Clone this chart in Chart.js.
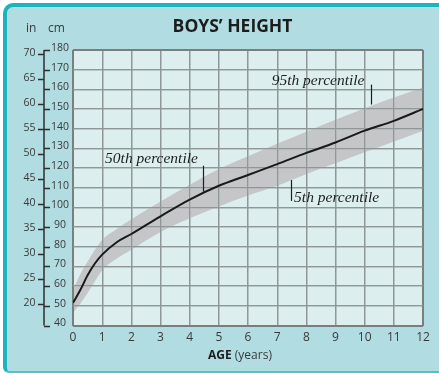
<!DOCTYPE html>
<html>
<head>
<meta charset="utf-8">
<title>Boys' height</title>
<script src="https://cdn.jsdelivr.net/npm/chart.js@4.4.1/dist/chart.umd.min.js"></script>
<style>
  html, body { margin: 0; padding: 0; background: #fff; }
  #panel {
    position: absolute; left: 3px; top: 3px;
    width: 432px; height: 364px;
    background: #b1dce1;
    border-top: 4px solid #1db3be;
    border-left: 4px solid #1db3be;
    border-bottom: 2px solid #4fc2ca;
    border-top-left-radius: 10px;
    border-bottom-left-radius: 6px;
  }
  #chart { position: absolute; left: 0; top: 0; }
</style>
</head>
<body>
<div id="panel"></div>
<canvas id="chart" width="439" height="373"></canvas>
<script>
'use strict';

// ── Data: height (cm) by age (years) ─────────────────
const ages = [0, 0.25, 0.5, 0.75, 1, 1.5, 2, 3, 4, 5, 6, 7, 8, 9, 10, 11, 12];
const p50  = [51.5, 58, 65.5, 71.5, 76, 82.3, 86.5, 95.5, 104, 111, 116.5, 122, 127.7, 133, 139, 144, 150];
const p95  = [58, 66, 72.5, 78.5, 83.5, 89, 94, 103, 111.5, 119.5, 126, 132.3, 138.5, 144.5, 150.4, 155.8, 161];
const p5   = [46.5, 51, 56.5, 62.5, 68, 74, 78.5, 87.5, 94.5, 100.5, 106, 111, 117, 122.5, 128, 133.5, 139];

// ── Tick labels ──────────────────────────────────────
const ageTicks  = [0, 1, 2, 3, 4, 5, 6, 7, 8, 9, 10, 11, 12];
const cmTicks   = [40, 50, 60, 70, 80, 90, 100, 110, 120, 130, 140, 150, 160, 170, 180];
const inchTicks = [20, 25, 30, 35, 40, 45, 50, 55, 60, 65, 70];

// ── Callout labels (age, cm) ─────────────────────────
const notes = [
  { text: '95th percentile', at: [6.81, 162.2], tick: [10.2, 162.4, 152.3] },
  { text: '50th percentile', at: [1.10, 122.4], tick: [4.47, 121.2, 108.0] },
  { text: '5th percentile',  at: [7.58, 102.9], tick: [7.46, 113.9, 103.3] },
];

const toPts = vals => ages.map((a, i) => ({ x: a, y: vals[i] }));

const GRID   = '#8f9797';
const EDGE   = '#7a7e7e';
const INK    = '#3a3a3a';

Chart.defaults.font.family = "'Open Sans', sans-serif";

// plot background, grid over the band, ruler, callouts and captions
const decor = {
  id: 'decor',
  beforeDraw(chart) {
    const { ctx, chartArea: a } = chart;
    ctx.save();
    ctx.fillStyle = '#dcefee';
    ctx.fillRect(a.left, a.top, a.right - a.left, a.bottom - a.top);
    ctx.restore();
  },
  beforeDatasetDraw(chart, args) {
    // redraw grid on top of the grey band, under the median line
    if (args.index === 2) {
      chart.scales.x.drawGrid(chart.chartArea);
      chart.scales.y.drawGrid(chart.chartArea);
    }
  },
  afterDraw(chart) {
    const { ctx } = chart;
    const x = chart.scales.x, y = chart.scales.y, yIn = chart.scales.yIn;
    ctx.save();

    // dual cm / inch ruler
    const ax = y.left + 1;
    ctx.strokeStyle = '#2e2e2e';
    ctx.lineWidth = 1.5;
    ctx.beginPath();
    ctx.moveTo(ax, y.getPixelForValue(180));
    ctx.lineTo(ax, y.getPixelForValue(40));
    cmTicks.forEach(v => {
      const py = Math.round(y.getPixelForValue(v)) + 0.5;
      ctx.moveTo(ax, py); ctx.lineTo(ax + 6, py);
    });
    inchTicks.forEach(v => {
      const py = Math.round(yIn.getPixelForValue(v)) + 0.5;
      ctx.moveTo(ax - 6, py); ctx.lineTo(ax, py);
    });
    ctx.stroke();

    // percentile callouts
    ctx.fillStyle = '#1e1e1e';
    ctx.strokeStyle = '#1e1e1e';
    ctx.lineWidth = 1.2;
    ctx.font = "italic 15.5px 'Liberation Serif', serif";
    ctx.textBaseline = 'alphabetic';
    ctx.textAlign = 'left';
    notes.forEach(n => {
      ctx.fillText(n.text, x.getPixelForValue(n.at[0]), y.getPixelForValue(n.at[1]));
      const tx = Math.round(x.getPixelForValue(n.tick[0])) + 0.5;
      ctx.beginPath();
      ctx.moveTo(tx, y.getPixelForValue(n.tick[1]));
      ctx.lineTo(tx, y.getPixelForValue(n.tick[2]));
      ctx.stroke();
    });

    // captions
    ctx.fillStyle = '#1c1c1c';
    ctx.font = "bold 17.5px 'Open Sans', sans-serif";
    ctx.textAlign = 'center';
    ctx.fillText('BOYS\u2019 HEIGHT', 232.5, 32);

    ctx.fillStyle = INK;
    ctx.font = "12px 'Open Sans', sans-serif";
    ctx.textAlign = 'left';
    ctx.fillText('in', 26, 31.5);
    ctx.fillText('cm', 48, 31.5);

    ctx.font = "bold 12px 'Open Sans', sans-serif";
    ctx.fillStyle = '#1c1c1c';
    ctx.fillText('AGE', 208, 359);
    const w = ctx.measureText('AGE ').width;
    ctx.font = "12px 'Open Sans', sans-serif";
    ctx.fillStyle = INK;
    ctx.fillText('(years)', 208 + w, 359);

    ctx.restore();
  }
};

const edgeColor = (lo, hi) => c => (c.tick && (c.tick.value === lo || c.tick.value === hi)) ? EDGE : GRID;
const edgeWidth = (lo, hi) => c => (c.tick && (c.tick.value === lo || c.tick.value === hi)) ? 2 : 1.3;

new Chart(document.getElementById('chart'), {
  type: 'line',
  data: {
    datasets: [
      {
        label: '95th percentile',
        data: toPts(p95),
        borderWidth: 0,
        pointRadius: 0,
        backgroundColor: '#c4c6c8',
        fill: '+1',
        cubicInterpolationMode: 'monotone',
        order: 1,
      },
      {
        label: '5th percentile',
        data: toPts(p5),
        borderWidth: 0,
        pointRadius: 0,
        fill: false,
        cubicInterpolationMode: 'monotone',
        order: 2,
      },
      {
        label: '50th percentile',
        data: toPts(p50),
        borderColor: '#1a1a1a',
        borderWidth: 2,
        pointRadius: 0,
        fill: false,
        cubicInterpolationMode: 'monotone',
        order: 0,
      },
    ],
  },
  options: {
    responsive: false,
    animation: false,
    layout: { padding: { left: 21, right: 16, top: 50, bottom: 25.5 } },
    plugins: {
      legend: { display: false },
      tooltip: { enabled: false },
    },
    scales: {
      x: {
        type: 'linear',
        min: 0, max: 12,
        afterBuildTicks: s => { s.ticks = ageTicks.map(v => ({ value: v })); },
        afterFit: s => { s.height = 22; },
        grid: { color: edgeColor(0, 12), lineWidth: edgeWidth(0, 12), drawTicks: false },
        border: { display: false },
        ticks: { color: INK, font: { size: 12 }, padding: 5, maxRotation: 0, autoSkip: false },
      },
      y: {
        position: 'left',
        weight: 0,
        min: 40, max: 180,
        afterBuildTicks: s => { s.ticks = cmTicks.map(v => ({ value: v })); },
        afterFit: s => { s.width = 30; },
        grid: { color: edgeColor(40, 180), lineWidth: edgeWidth(40, 180), drawTicks: false },
        border: { display: false },
        ticks: { color: INK, font: { size: 10.5 }, padding: 4, crossAlign: 'center', labelOffset: -2, autoSkip: false },
      },
      yIn: {
        position: 'left',
        weight: 1,
        min: 40 / 2.54, max: 180 / 2.54,
        afterBuildTicks: s => { s.ticks = inchTicks.map(v => ({ value: v })); },
        afterFit: s => { s.width = 22; },
        grid: { display: false, drawTicks: false },
        border: { display: false },
        ticks: { color: INK, font: { size: 10.5 }, padding: 7.5, labelOffset: -1, autoSkip: false },
      },
    },
  },
  plugins: [decor],
});
</script>
</body>
</html>
